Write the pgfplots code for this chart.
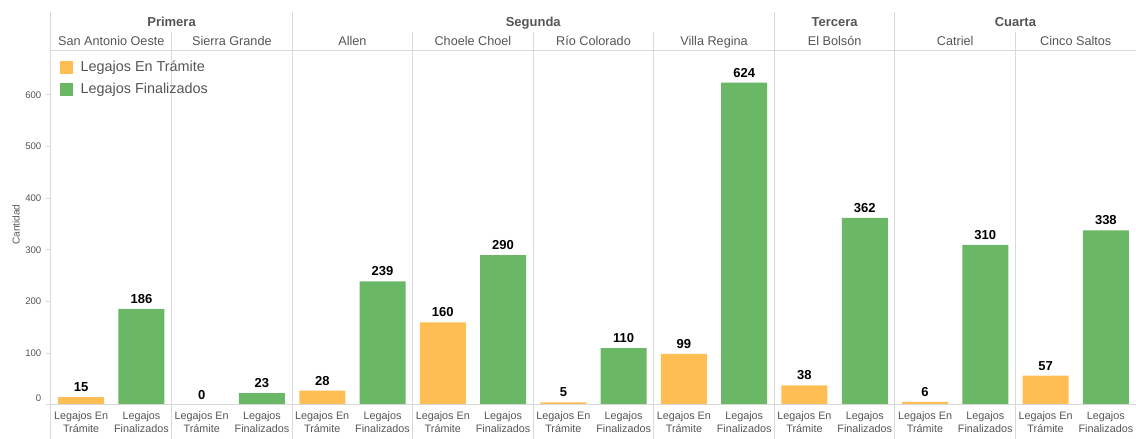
\documentclass[border=0pt]{standalone}
\usepackage{pgfplots}
\pgfplotsset{compat=1.18}
\usepackage{fontspec}
\setmainfont{Liberation Sans}
\definecolor{orangeT}{RGB}{255,190,84}
\definecolor{greenT}{RGB}{106,183,101}
\definecolor{sepc}{RGB}{217,217,217}
\definecolor{txt}{RGB}{85,85,85}
\begin{document}
\begin{tikzpicture}
\begin{axis}[
  at={(0,0)}, anchor=south west,
  scale only axis, width=813.75pt, height=265.5pt,
  xmin=-0.5, xmax=17.5, ymin=0, ymax=685,
  clip=false,
  axis line style={draw=none},
  ybar, bar width=34.5pt,
  xtick={0,...,17},
  xticklabels={{Legajos En\\Trámite},{Legajos\\Finalizados},{Legajos En\\Trámite},{Legajos\\Finalizados},{Legajos En\\Trámite},{Legajos\\Finalizados},{Legajos En\\Trámite},{Legajos\\Finalizados},{Legajos En\\Trámite},{Legajos\\Finalizados},{Legajos En\\Trámite},{Legajos\\Finalizados},{Legajos En\\Trámite},{Legajos\\Finalizados},{Legajos En\\Trámite},{Legajos\\Finalizados},{Legajos En\\Trámite},{Legajos\\Finalizados}},
  xticklabel style={align=center, font=\fontsize{8.1}{9.75}\selectfont, text=txt, yshift=2.5pt},
  x tick style={draw=none},
  ytick={100,200,...,600},
  extra y ticks={0},
  extra y tick style={yticklabel style={yshift=5.25pt}},
  yticklabel style={font=\fontsize{7.2}{8}\selectfont, text=txt},
  y tick style={draw=sepc, line width=0.75pt},
  tick align=outside, major tick length=3.75pt,
  /pgf/number format/assume math mode=true,
  nodes near coords,
  every node near coord/.append style={font=\bfseries\fontsize{9.75}{11}\selectfont, text=black, yshift=0.5pt},
  legend style={at={(rel axis cs:0.0083,0.98)}, anchor=north west, draw=none, fill=none, inner sep=0pt,
    font=\fontsize{10.8}{12}\selectfont, text=txt, row sep=3pt,
    nodes={inner sep=2pt}},
  legend cell align=left,
  legend image code/.code={\fill[#1,draw=none] (0pt,-4.875pt) rectangle (9.75pt,4.875pt);},
]
\addplot[fill=orangeT, draw=none, bar shift=0pt] coordinates {(0,15) (2,0) (4,28) (6,160) (8,5) (10,99) (12,38) (14,6) (16,57)};
\addlegendentry{\hspace{3.5pt}Legajos En Trámite}
\addplot[fill=greenT, draw=none, bar shift=0pt] coordinates {(1,186) (3,23) (5,239) (7,290) (9,110) (11,624) (13,362) (15,310) (17,338)};
\addlegendentry{\hspace{3.5pt}Legajos Finalizados}

% frame lines
\draw[sepc, line width=0.75pt] (rel axis cs:0,0) -- (rel axis cs:1,0);
\draw[sepc, line width=0.75pt] (rel axis cs:0,1) -- (rel axis cs:1,1);
\draw[sepc, line width=0.75pt] ({axis cs:-0.5,0} |- {rel axis cs:0,1.11}) -- ({axis cs:-0.5,0} |- {rel axis cs:0,-0.096});
\draw[sepc, line width=0.75pt] ({axis cs:3.5,0} |- {rel axis cs:0,1.11}) -- ({axis cs:3.5,0} |- {rel axis cs:0,-0.096});
\draw[sepc, line width=0.75pt] ({axis cs:11.5,0} |- {rel axis cs:0,1.11}) -- ({axis cs:11.5,0} |- {rel axis cs:0,-0.096});
\draw[sepc, line width=0.75pt] ({axis cs:13.5,0} |- {rel axis cs:0,1.11}) -- ({axis cs:13.5,0} |- {rel axis cs:0,-0.096});
\draw[sepc, line width=0.75pt] ({axis cs:1.5,0} |- {rel axis cs:0,1.054}) -- ({axis cs:1.5,0} |- {rel axis cs:0,-0.096});
\draw[sepc, line width=0.75pt] ({axis cs:5.5,0} |- {rel axis cs:0,1.054}) -- ({axis cs:5.5,0} |- {rel axis cs:0,-0.096});
\draw[sepc, line width=0.75pt] ({axis cs:7.5,0} |- {rel axis cs:0,1.054}) -- ({axis cs:7.5,0} |- {rel axis cs:0,-0.096});
\draw[sepc, line width=0.75pt] ({axis cs:9.5,0} |- {rel axis cs:0,1.054}) -- ({axis cs:9.5,0} |- {rel axis cs:0,-0.096});
\draw[sepc, line width=0.75pt] ({axis cs:15.5,0} |- {rel axis cs:0,1.054}) -- ({axis cs:15.5,0} |- {rel axis cs:0,-0.096});
% group headers
\node[anchor=base, inner sep=0pt, font=\bfseries\fontsize{9.75}{11}\selectfont, text=txt] at ({axis cs:1.5,0} |- {rel axis cs:0,1.0706}) {Primera};
\node[anchor=base, inner sep=0pt, font=\bfseries\fontsize{9.75}{11}\selectfont, text=txt] at ({axis cs:7.5,0} |- {rel axis cs:0,1.0706}) {Segunda};
\node[anchor=base, inner sep=0pt, font=\bfseries\fontsize{9.75}{11}\selectfont, text=txt] at ({axis cs:12.5,0} |- {rel axis cs:0,1.0706}) {Tercera};
\node[anchor=base, inner sep=0pt, font=\bfseries\fontsize{9.75}{11}\selectfont, text=txt] at ({axis cs:15.5,0} |- {rel axis cs:0,1.0706}) {Cuarta};
\node[anchor=base, inner sep=0pt, font=\fontsize{9.5}{11}\selectfont, text=txt] at ({axis cs:0.5,0} |- {rel axis cs:0,1.015}) {San Antonio Oeste};
\node[anchor=base, inner sep=0pt, font=\fontsize{9.5}{11}\selectfont, text=txt] at ({axis cs:2.5,0} |- {rel axis cs:0,1.015}) {Sierra Grande};
\node[anchor=base, inner sep=0pt, font=\fontsize{9.5}{11}\selectfont, text=txt] at ({axis cs:4.5,0} |- {rel axis cs:0,1.015}) {Allen};
\node[anchor=base, inner sep=0pt, font=\fontsize{9.5}{11}\selectfont, text=txt] at ({axis cs:6.5,0} |- {rel axis cs:0,1.015}) {Choele Choel};
\node[anchor=base, inner sep=0pt, font=\fontsize{9.5}{11}\selectfont, text=txt] at ({axis cs:8.5,0} |- {rel axis cs:0,1.015}) {Río Colorado};
\node[anchor=base, inner sep=0pt, font=\fontsize{9.5}{11}\selectfont, text=txt] at ({axis cs:10.5,0} |- {rel axis cs:0,1.015}) {Villa Regina};
\node[anchor=base, inner sep=0pt, font=\fontsize{9.5}{11}\selectfont, text=txt] at ({axis cs:12.5,0} |- {rel axis cs:0,1.015}) {El Bolsón};
\node[anchor=base, inner sep=0pt, font=\fontsize{9.5}{11}\selectfont, text=txt] at ({axis cs:14.5,0} |- {rel axis cs:0,1.015}) {Catriel};
\node[anchor=base, inner sep=0pt, font=\fontsize{9.5}{11}\selectfont, text=txt] at ({axis cs:16.5,0} |- {rel axis cs:0,1.015}) {Cinco Saltos};
\node[rotate=90, font=\fontsize{7.5}{8}\selectfont, text=txt] at ([xshift=-26.25pt]rel axis cs:0,0.51) {Cantidad};
\end{axis}
\pgfresetboundingbox
\path (-38.25pt,-25.5pt) rectangle (813.75pt,303.75pt);
\end{tikzpicture}
\end{document}
